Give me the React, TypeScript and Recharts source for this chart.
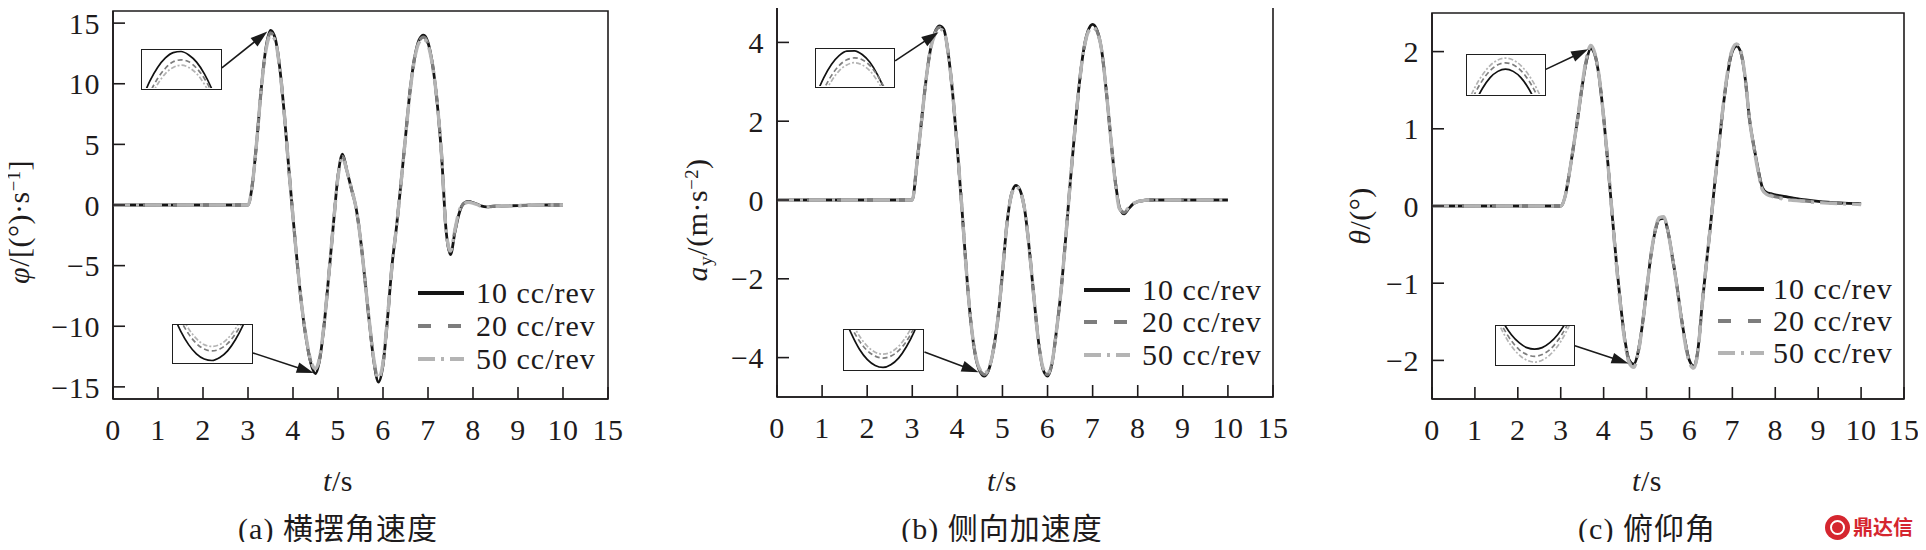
import React from 'react';
import { LineChart, Line, XAxis, YAxis, ReferenceArea, ReferenceLine } from 'recharts';

// ---------------- data ----------------
const TIME = [0, 1, 2, 2.9,
  3.0, 3.1, 3.2, 3.3, 3.4, 3.5, 3.6, 3.7, 3.8, 3.9,
  4.0, 4.1, 4.2, 4.3, 4.4, 4.5, 4.6, 4.7, 4.8, 4.9,
  5.0, 5.1, 5.2, 5.3, 5.4, 5.5, 5.6, 5.7, 5.8, 5.9,
  6.0, 6.1, 6.2, 6.3, 6.4, 6.5, 6.6, 6.7, 6.8, 6.9,
  7.0, 7.1, 7.2, 7.3, 7.4, 7.5, 7.6, 7.7, 7.8, 7.9,
  8.0, 8.1, 8.2, 8.3, 8.4, 8.5,
  9, 9.5, 10];

const X_TICKS = [0, 1, 2, 3, 4, 5, 6, 7, 8, 9, 10, 11];
const X_TICK_LABELS = ['0', '1', '2', '3', '4', '5', '6', '7', '8', '9', '10', '15'];

const SERIES_NAMES = ['10 cc/rev', '20 cc/rev', '50 cc/rev'];

// (a) yaw rate
const A_10 = [0, 0, 0, 0,
  0.0, 1.8, 5.5, 9.8, 13.0, 14.4, 13.8, 11.5, 7.8, 3.3,
  -1.0, -5.0, -8.5, -11.2, -13.1, -13.9, -12.6, -9.6, -5.6, -1.5,
  2.4, 4.2, 2.8, 1.3, -0.2, -2.8, -6.2, -9.8, -13.0, -14.6,
  -13.2, -9.4, -5.0, -1.8, 1.8, 5.6, 9.4, 12.1, 13.6, 14.0,
  13.4, 11.6, 8.6, 4.2, -2.0, -4.1, -2.2, -0.6, 0.15, 0.3,
  0.2, 0.05, -0.1, -0.15, -0.12, -0.1,
  -0.05, 0, 0];
const A_20 = [0, 0, 0, 0,
  0.0, 1.8, 5.5, 9.8, 12.9, 14.2, 13.7, 11.5, 7.8, 3.3,
  -1.0, -5.0, -8.5, -11.2, -13.0, -13.7, -12.5, -9.6, -5.6, -1.5,
  2.4, 4.0, 2.8, 1.3, -0.2, -2.8, -6.2, -9.8, -12.9, -14.4,
  -13.1, -9.4, -5.0, -1.8, 1.8, 5.6, 9.4, 12.1, 13.5, 13.85,
  13.3, 11.6, 8.6, 4.2, -2.0, -3.9, -2.1, -0.5, 0.12, 0.25,
  0.18, 0.03, -0.12, -0.16, -0.13, -0.1,
  -0.05, 0, 0];
const A_50 = [0, 0, 0, 0,
  0.0, 1.8, 5.5, 9.8, 12.8, 14.0, 13.6, 11.4, 7.8, 3.3,
  -1.0, -5.0, -8.5, -11.1, -12.9, -13.5, -12.4, -9.5, -5.6, -1.5,
  2.3, 3.9, 2.8, 1.3, -0.2, -2.8, -6.2, -9.7, -12.8, -14.3,
  -13.0, -9.3, -5.0, -1.8, 1.8, 5.6, 9.3, 12.0, 13.4, 13.7,
  13.2, 11.5, 8.6, 4.2, -2.0, -3.8, -2.0, -0.4, 0.1, 0.22,
  0.16, 0.02, -0.13, -0.17, -0.14, -0.11,
  -0.05, 0, 0];
const A_Y_TICKS = [-15, -10, -5, 0, 5, 10, 15];

// (b) lateral acceleration
const B_10 = [0, 0, 0, 0,
  0.0, 0.9, 1.95, 3.0, 3.8, 4.25, 4.42, 4.33, 3.7, 2.65,
  1.3, -0.2, -1.8, -3.1, -3.95, -4.35, -4.47, -4.3, -3.8, -3.0,
  -1.85, -0.6, 0.15, 0.37, 0.22, -0.3, -1.3, -2.5, -3.6, -4.3,
  -4.47, -4.15, -3.3, -2.3, -1.0, 0.4, 1.7, 2.9, 3.8, 4.3,
  4.46, 4.3, 3.8, 2.8, 1.6, 0.5, -0.2, -0.35, -0.22, -0.1,
  -0.04, -0.02, 0, 0, 0, 0,
  0, 0, 0];
const B_20 = [0, 0, 0, 0,
  0.0, 0.9, 1.95, 3.0, 3.8, 4.23, 4.38, 4.3, 3.7, 2.65,
  1.3, -0.2, -1.8, -3.1, -3.93, -4.32, -4.43, -4.28, -3.8, -3.0,
  -1.85, -0.6, 0.14, 0.35, 0.21, -0.3, -1.3, -2.5, -3.6, -4.28,
  -4.43, -4.13, -3.3, -2.3, -1.0, 0.4, 1.7, 2.9, 3.8, 4.28,
  4.42, 4.28, 3.8, 2.8, 1.6, 0.48, -0.22, -0.32, -0.2, -0.09,
  -0.04, -0.02, 0, 0, 0, 0,
  0, 0, 0];
const B_50 = [0, 0, 0, 0,
  0.0, 0.9, 1.95, 3.0, 3.8, 4.2, 4.34, 4.28, 3.7, 2.65,
  1.3, -0.2, -1.8, -3.1, -3.92, -4.3, -4.4, -4.26, -3.8, -3.0,
  -1.85, -0.6, 0.13, 0.34, 0.2, -0.3, -1.3, -2.5, -3.6, -4.26,
  -4.4, -4.12, -3.3, -2.3, -1.0, 0.4, 1.7, 2.9, 3.78, 4.26,
  4.38, 4.26, 3.8, 2.8, 1.6, 0.47, -0.23, -0.3, -0.19, -0.09,
  -0.04, -0.02, 0, 0, 0, 0,
  0, 0, 0];
const B_Y_TICKS = [-4, -2, 0, 2, 4];

// (c) pitch angle
const C_10 = [0, 0, 0, 0,
  0.0, 0.12, 0.42, 0.78, 1.15, 1.55, 1.88, 2.04, 1.95, 1.65,
  1.15, 0.55, -0.12, -0.75, -1.3, -1.75, -2.0, -2.05, -1.9, -1.55,
  -1.1, -0.65, -0.33, -0.17, -0.16, -0.33, -0.65, -1.0, -1.4, -1.75,
  -2.0, -2.07, -1.85, -1.25, -0.72, -0.2, 0.35, 0.85, 1.35, 1.75,
  2.0, 2.07, 1.98, 1.65, 1.12, 0.78, 0.48, 0.24, 0.175, 0.16,
  0.145, 0.135, 0.125, 0.115, 0.105, 0.095,
  0.06, 0.04, 0.03];
const C_20 = [0, 0, 0, 0,
  0.0, 0.12, 0.42, 0.78, 1.15, 1.56, 1.9, 2.06, 1.96, 1.65,
  1.15, 0.55, -0.12, -0.76, -1.31, -1.77, -2.02, -2.07, -1.91, -1.55,
  -1.1, -0.65, -0.32, -0.16, -0.15, -0.33, -0.66, -1.0, -1.41, -1.77,
  -2.02, -2.09, -1.86, -1.25, -0.72, -0.2, 0.35, 0.85, 1.36, 1.77,
  2.02, 2.09, 1.99, 1.65, 1.12, 0.77, 0.46, 0.22, 0.16, 0.14,
  0.12, 0.11, 0.1, 0.09, 0.08, 0.075,
  0.05, 0.035, 0.025];
const C_50 = [0, 0, 0, 0,
  0.0, 0.12, 0.42, 0.78, 1.16, 1.57, 1.92, 2.08, 1.97, 1.66,
  1.15, 0.55, -0.12, -0.77, -1.32, -1.78, -2.04, -2.09, -1.92, -1.56,
  -1.1, -0.65, -0.31, -0.15, -0.14, -0.33, -0.66, -1.01, -1.42, -1.78,
  -2.03, -2.1, -1.87, -1.26, -0.72, -0.2, 0.35, 0.86, 1.37, 1.78,
  2.03, 2.1, 2.0, 1.66, 1.12, 0.76, 0.45, 0.21, 0.15, 0.13,
  0.11, 0.1, 0.09, 0.08, 0.075, 0.07,
  0.045, 0.03, 0.02];
const C_Y_TICKS = [-2, -1, 0, 1, 2];

// inset close-ups (local 0..100 units)
const INSET_X = [0, 10, 20, 30, 40, 50, 60, 70, 80, 90, 100];
const A_PEAK_10 = [-30, 18, 54, 79, 93, 96, 87, 68, 37, -5, -57];
const A_PEAK_20 = [-61, -13, 25, 52, 69, 74, 69, 52, 25, -13, -61];
const A_PEAK_50 = [-70, -28, 10, 38, 54, 60, 54, 38, 10, -28, -70];
const A_VAL_10 = [129, 83, 47, 22, 8, 4, 12, 30, 60, 100, 151];
const A_VAL_20 = [158, 112, 76, 50, 35, 30, 35, 50, 76, 112, 158];
const A_VAL_50 = [172, 127, 90, 63, 47, 42, 47, 63, 90, 127, 172];
const B_PEAK_10 = [-25, 22, 58, 82, 94, 95, 85, 64, 30, -15, -70];
const B_PEAK_20 = [-58, -10, 28, 55, 71, 76, 71, 55, 28, -10, -58];
const B_PEAK_50 = [-68, -25, 13, 41, 57, 63, 57, 41, 13, -25, -68];
const B_VAL_10 = [135, 88, 50, 24, 9, 4, 11, 28, 57, 96, 145];
const B_VAL_20 = [150, 106, 71, 47, 33, 28, 33, 47, 71, 106, 150];
const B_VAL_50 = [165, 120, 84, 58, 43, 38, 43, 58, 84, 120, 165];
const C_PEAK_10 = [-74, -25, 14, 42, 58, 64, 58, 42, 14, -25, -74];
const C_PEAK_20 = [-45, 0, 35, 60, 75, 80, 75, 60, 35, 0, -45];
const C_PEAK_50 = [-27, 16, 49, 73, 87, 92, 87, 73, 49, 16, -27];
const C_VAL_10 = [145, 107, 77, 56, 43, 39, 43, 56, 77, 107, 145];
const C_VAL_20 = [133, 93, 61, 38, 25, 20, 25, 38, 61, 93, 133];
const C_VAL_50 = [122, 80, 47, 24, 10, 5, 10, 24, 47, 80, 122];

// ---------------- styles ----------------
const SERIF = '"Liberation Serif", "Times New Roman", "Noto Sans CJK SC", serif';
const INK = '#1e1b1c';
const FONT_SIZE = 30;
const SERIES_STYLE = [
  { key: 's10', color: '#151515', width: 2.8, dash: undefined as string | undefined, legendWidth: 3.8 },
  { key: 's20', color: '#7d7d7d', width: 3.2, dash: '13 17', legendWidth: 3.8 },
  { key: 's50', color: '#b4b4b4', width: 3.4, dash: '17 6 3 6', legendWidth: 3.8 },
];
const INSET_DASH = [undefined, '5 3', '5 2 2 2'];

const rowsFrom = (a: number[], b: number[], c: number[]) =>
  TIME.map((t, i) => ({ t, s10: a[i], s20: b[i], s50: c[i] }));
const insetRows = (a: number[], b: number[], c: number[]) =>
  INSET_X.map((x, i) => ({ x, s10: a[i], s20: b[i], s50: c[i] }));

const fmtNum = (v: number) => (v < 0 ? '\u2212' + String(Math.abs(v)) : String(v));

const ArrowShape = (p: any) => {
  const { x1, y1, x2, y2 } = p;
  const dx = x2 - x1;
  const dy = y2 - y1;
  const len = Math.hypot(dx, dy) || 1;
  const ux = dx / len;
  const uy = dy / len;
  const hl = 17;
  const hw = 5.5;
  const bx = x2 - ux * hl;
  const by = y2 - uy * hl;
  const pts = `${x2},${y2} ${bx - uy * hw},${by + ux * hw} ${bx + uy * hw},${by - ux * hw}`;
  return (
    <g>
      <line x1={x1} y1={y1} x2={bx + ux * 2} y2={by + uy * 2} stroke="#1a1a1a" strokeWidth={1.6} />
      <polygon points={pts} fill="#1a1a1a" />
    </g>
  );
};

type Inset = { left: number; top: number; w: number; h: number; rows: any[] };
type Panel = {
  plotLeft: number; plotRight: number; plotTop: number; plotBottom: number;
  yDomain: [number, number]; yTicks: number[]; rows: any[];
  arrows: { from: [number, number]; to: [number, number] }[];
  insets: Inset[];
  yLabel: React.ReactNode; yLabelPos: [number, number];
  legend: { lineLeft: number; textLeft: number; rows: number[] };
  caption: string; center: number;
};

const SUP: React.CSSProperties = { fontSize: '0.62em', verticalAlign: '0.5em', lineHeight: 0 };
const SUB: React.CSSProperties = { fontSize: '0.65em', verticalAlign: '-0.25em', lineHeight: 0 };

const PANELS: Panel[] = [
  {
    plotLeft: 113, plotRight: 608, plotTop: 11, plotBottom: 399,
    yDomain: [-16, 16], yTicks: A_Y_TICKS, rows: rowsFrom(A_10, A_20, A_50),
    arrows: [
      { from: [2.42, 11.3], to: [3.43, 14.3] },
      { from: [3.11, -12.2], to: [4.46, -13.85] },
    ],
    insets: [
      { left: 141, top: 49, w: 81, h: 41, rows: insetRows(A_PEAK_10, A_PEAK_20, A_PEAK_50) },
      { left: 172, top: 324, w: 81, h: 40, rows: insetRows(A_VAL_10, A_VAL_20, A_VAL_50) },
    ],
    yLabel: (<span><i>φ</i>/[(°)·s<sup style={SUP}>−1</sup>]</span>),
    yLabelPos: [19, 222],
    legend: { lineLeft: 418, textLeft: 476, rows: [293, 326, 359] },
    caption: '(a) 横摆角速度', center: 338,
  },
  {
    plotLeft: 777, plotRight: 1273, plotTop: 3, plotBottom: 397,
    yDomain: [-5, 5], yTicks: B_Y_TICKS, rows: rowsFrom(B_10, B_20, B_50),
    arrows: [
      { from: [2.62, 3.53], to: [3.58, 4.26] },
      { from: [3.27, -3.86], to: [4.47, -4.37] },
    ],
    insets: [
      { left: 815, top: 48, w: 80, h: 40, rows: insetRows(B_PEAK_10, B_PEAK_20, B_PEAK_50) },
      { left: 843, top: 329, w: 81, h: 42, rows: insetRows(B_VAL_10, B_VAL_20, B_VAL_50) },
    ],
    yLabel: (<span><i>a</i><sub style={SUB}>y</sub>/(m·s<sup style={SUP}>−2</sup>)</span>),
    yLabelPos: [697, 220],
    legend: { lineLeft: 1084, textLeft: 1142, rows: [290, 322, 355] },
    caption: '(b) 侧向加速度', center: 1002,
  },
  {
    plotLeft: 1432, plotRight: 1904, plotTop: 13, plotBottom: 399,
    yDomain: [-2.5, 2.5], yTicks: C_Y_TICKS, rows: rowsFrom(C_10, C_20, C_50),
    arrows: [
      { from: [2.65, 1.77], to: [3.64, 2.03] },
      { from: [3.33, -1.81], to: [4.58, -2.04] },
    ],
    insets: [
      { left: 1466, top: 54, w: 80, h: 42, rows: insetRows(C_PEAK_10, C_PEAK_20, C_PEAK_50) },
      { left: 1495, top: 325, w: 80, h: 41, rows: insetRows(C_VAL_10, C_VAL_20, C_VAL_50) },
    ],
    yLabel: (<span><i>θ</i>/(°)</span>),
    yLabelPos: [1360, 216],
    legend: { lineLeft: 1718, textLeft: 1773, rows: [289, 321, 353] },
    caption: '(c) 俯仰角', center: 1647,
  },
];

const Y_AXIS_W = 110;
const RIGHT_PAD = 30;
const PAGE_H = 550;

function PanelChart({ p }: { p: Panel }) {
  const plotW = p.plotRight - p.plotLeft;
  const width = Y_AXIS_W + plotW + RIGHT_PAD;
  const tickStyle = { fontSize: FONT_SIZE, fontFamily: SERIF, fill: INK, letterSpacing: 0.6 };
  return (
    <div style={{ position: 'absolute', left: p.plotLeft - Y_AXIS_W, top: 0, width, height: PAGE_H }}>
      <LineChart width={width} height={PAGE_H} data={p.rows}
        margin={{ top: p.plotTop, right: RIGHT_PAD, bottom: 0, left: 0 }}>
        <XAxis type="number" dataKey="t" domain={[0, 11]} ticks={X_TICKS} interval={0}
          allowDataOverflow
          tickFormatter={(v: number) => X_TICK_LABELS[X_TICKS.indexOf(v)] ?? String(v)}
          height={PAGE_H - p.plotBottom} tickSize={-12} tickMargin={32}
          axisLine={{ stroke: INK, strokeWidth: 1.6 }} tickLine={{ stroke: INK, strokeWidth: 1.6 }}
          tick={tickStyle} />
        <YAxis type="number" domain={p.yDomain} ticks={p.yTicks} interval={0} allowDataOverflow
          width={Y_AXIS_W} tickSize={-12} tickMargin={25} tickFormatter={fmtNum}
          axisLine={{ stroke: INK, strokeWidth: 1.6 }} tickLine={{ stroke: INK, strokeWidth: 1.6 }}
          tick={tickStyle} />
        <ReferenceArea x1={0} x2={11} y1={p.yDomain[0]} y2={p.yDomain[1]}
          fill="none" fillOpacity={0} stroke={INK} strokeWidth={1.6} ifOverflow="visible" />
        {SERIES_STYLE.map((s) => (
          <Line key={s.key} type="monotone" dataKey={s.key} stroke={s.color} strokeWidth={s.width}
            strokeDasharray={s.dash} dot={false} activeDot={false} isAnimationActive={false} />
        ))}
        {p.arrows.map((a, i) => (
          <ReferenceLine key={i} segment={[{ x: a.from[0], y: a.from[1] }, { x: a.to[0], y: a.to[1] }]}
            ifOverflow="visible" shape={ArrowShape} />
        ))}
      </LineChart>
    </div>
  );
}

function InsetChart({ ins }: { ins: Inset }) {
  return (
    <div style={{ position: 'absolute', left: ins.left, top: ins.top, width: ins.w, height: ins.h,
      border: '1.6px solid #1f1f1f', background: '#fff', boxSizing: 'border-box', overflow: 'hidden' }}>
      <LineChart width={ins.w - 3} height={ins.h - 3} data={ins.rows} margin={{ top: 0, right: 0, bottom: 0, left: 0 }}>
        <XAxis type="number" dataKey="x" domain={[0, 100]} hide allowDataOverflow />
        <YAxis type="number" domain={[0, 100]} hide allowDataOverflow />
        {SERIES_STYLE.map((s, i) => (
          <Line key={s.key} type="monotone" dataKey={s.key} stroke={i === 0 ? '#111' : s.color}
            strokeWidth={1.7} strokeDasharray={INSET_DASH[i]} dot={false} activeDot={false}
            isAnimationActive={false} />
        ))}
      </LineChart>
    </div>
  );
}

function Texts({ p }: { p: Panel }) {
  const textBase: React.CSSProperties = { position: 'absolute', fontFamily: SERIF, color: INK, whiteSpace: 'nowrap' };
  return (
    <>
      <div style={{ ...textBase, left: p.yLabelPos[0], top: p.yLabelPos[1], fontSize: FONT_SIZE, letterSpacing: 0.5,
        transform: 'translate(-50%, -50%) rotate(-90deg)', lineHeight: '36px' }}>{p.yLabel}</div>
      <div style={{ ...textBase, left: p.center, top: 481, fontSize: FONT_SIZE, lineHeight: '36px', letterSpacing: 0.5,
        transform: 'translate(-50%, -50%)' }}><i>t</i>/s</div>
      <div style={{ ...textBase, left: p.center, top: 529, fontSize: 30, lineHeight: '38px', letterSpacing: 1,
        transform: 'translate(-50%, -50%)' }}>{p.caption}</div>
      {SERIES_NAMES.map((name, i) => {
        const cy = p.legend.rows[i];
        const s = SERIES_STYLE[i];
        return (
          <React.Fragment key={name}>
            <svg style={{ position: 'absolute', left: p.legend.lineLeft, top: cy - 5 }} width={46} height={10}>
              <line x1={0} y1={5} x2={46} y2={5} stroke={s.color} strokeWidth={s.legendWidth}
                strokeDasharray={s.dash} />
            </svg>
            <div style={{ ...textBase, left: p.legend.textLeft, top: cy - 18, height: 36, lineHeight: '36px',
              fontSize: FONT_SIZE, letterSpacing: 1 }}>{name}</div>
          </React.Fragment>
        );
      })}
    </>
  );
}

export default function App() {
  return (
    <div style={{ position: 'relative', width: 1926, height: PAGE_H, margin: -8, background: '#fff', overflow: 'hidden' }}>
      {PANELS.map((p, i) => <PanelChart key={'c' + i} p={p} />)}
      {PANELS.map((p, i) => (
        <React.Fragment key={'i' + i}>
          {p.insets.map((ins, j) => <InsetChart key={j} ins={ins} />)}
          <Texts p={p} />
        </React.Fragment>
      ))}
      <div style={{ position: 'absolute', left: 1825, top: 515, width: 25, height: 25, borderRadius: '50%',
        background: '#d5262f' }}>
        <div style={{ position: 'absolute', left: 5, top: 5, width: 15, height: 15, borderRadius: '50%',
          border: '2px solid #fff', boxSizing: 'border-box' }} />
      </div>
      <div style={{ position: 'absolute', left: 1853, top: 512, fontSize: 20, fontWeight: 700, lineHeight: '30px',
        color: '#d5262f', fontFamily: '"Noto Sans CJK SC", sans-serif', whiteSpace: 'nowrap' }}>鼎达信</div>
    </div>
  );
}
